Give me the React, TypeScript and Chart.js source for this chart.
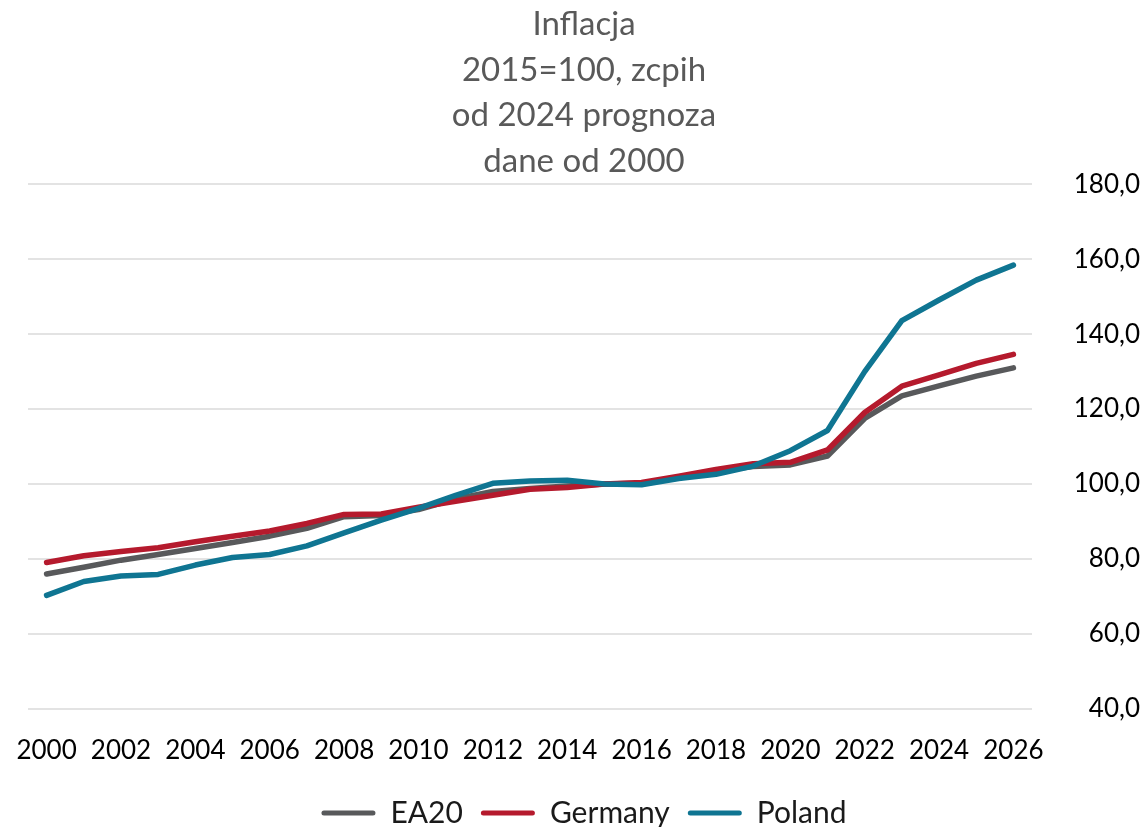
import React, { useEffect, useRef } from "react";
import { Chart, registerables } from "chart.js";

Chart.register(...registerables);

const years = [
  "2000", "2001", "2002", "2003", "2004", "2005", "2006", "2007", "2008", "2009",
  "2010", "2011", "2012", "2013", "2014", "2015", "2016", "2017", "2018", "2019",
  "2020", "2021", "2022", "2023", "2024", "2025", "2026",
];

const ea20 = [
  76.0, 77.8, 79.7, 81.2, 82.8, 84.4, 86.1, 88.2, 91.3, 91.6,
  93.2, 96.0, 98.0, 98.8, 99.5, 100.0, 100.2, 101.7, 103.5, 104.7,
  105.1, 107.5, 117.5, 123.5, 126.2, 128.8, 131.0,
];

const germany = [
  79.1, 80.9, 82.0, 83.0, 84.6, 86.1, 87.5, 89.5, 91.9, 92.0,
  93.8, 95.4, 97.0, 98.6, 99.1, 100.0, 100.4, 102.1, 103.9, 105.4,
  105.8, 109.1, 119.1, 126.1, 129.1, 132.2, 134.6,
];

const poland = [
  70.3, 74.0, 75.5, 75.9, 78.4, 80.4, 81.2, 83.5, 87.0, 90.4,
  93.5, 97.0, 100.2, 100.8, 101.0, 100.0, 99.8, 101.5, 102.6, 104.8,
  108.9, 114.3, 130.0, 143.6, 149.1, 154.4, 158.4,
];

const titleLines = ["Inflacja", "2015=100, zcpih", "od 2024 prognoza", "dane od 2000"];
const seriesNames = ["EA20", "Germany", "Poland"];
const seriesColors = ["#58595B", "#B51A2D", "#0F7592"];

export default function App() {
  const ref = useRef<HTMLCanvasElement | null>(null);

  useEffect(() => {
    if (!ref.current) return;
    const values = [ea20, germany, poland];
    const orders = [2, 1, 0];
    const chart = new Chart(ref.current, {
      type: "line",
      data: {
        labels: years,
        datasets: seriesNames.map((name, i) => ({
          label: name,
          data: values[i],
          borderColor: seriesColors[i],
          backgroundColor: seriesColors[i],
          borderWidth: 5.5,
          pointRadius: 0,
          tension: 0,
          borderCapStyle: "round" as const,
          borderJoinStyle: "round" as const,
          order: orders[i],
        })),
      },
      options: {
        animation: false,
        responsive: false,
        maintainAspectRatio: false,
        font: { family: "Lato" },
        layout: { padding: { left: 28, right: 8, top: 0, bottom: -11 } },
        plugins: {
          title: {
            display: true,
            text: titleLines,
            color: "#595959",
            font: { family: "Lato", size: 33, weight: "normal", lineHeight: 1.38 },
            padding: { top: 2, bottom: 0 },
          },
          legend: {
            display: true,
            position: "bottom",
            labels: {
              boxWidth: 54,
              boxHeight: 5,
              padding: 18,
              color: "#1a1a1a",
              useBorderRadius: true,
              borderRadius: 2.5,
              font: { family: "Lato", size: 30 },
              generateLabels: (c: any) =>
                c.data.datasets.map((ds: any, i: number) => ({
                  text: ds.label,
                  fillStyle: ds.borderColor,
                  strokeStyle: ds.borderColor,
                  lineWidth: 0,
                  hidden: false,
                  datasetIndex: i,
                  borderRadius: 2.5,
                  fontColor: "#1a1a1a",
                })),
            },
          },
          tooltip: { enabled: false },
        },
        scales: {
          x: {
            type: "category",
            offset: true,
            grid: { display: false, drawTicks: false },
            border: { display: false },
            afterFit: (s: any) => {
              s.height = 71;
              s.paddingLeft = 0;
              s.paddingRight = 0;
            },
            ticks: {
              autoSkip: false,
              maxRotation: 0,
              minRotation: 0,
              padding: 26,
              color: "#000000",
              font: { family: "Lato", size: 26 },
              callback: (_v: any, idx: number) => (idx % 2 === 0 ? years[idx] : ""),
            },
          },
          y: {
            position: "right",
            min: 40,
            max: 180,
            grid: { color: "#E3E3E3", lineWidth: 2, drawTicks: false },
            border: { display: false },
            afterFit: (s: any) => {
              s.width = 108;
            },
            ticks: {
              stepSize: 20,
              crossAlign: "far",
              padding: 42,
              color: "#000000",
              font: { family: "Lato", size: 26 },
              callback: (v: any) => Number(v).toFixed(1).replace(".", ","),
            },
          },
        },
      },
    });
    return () => chart.destroy();
  }, []);

  return (
    <div style={{ position: "absolute", left: 0, top: 0, width: 1148, height: 827, background: "#fff" }}>
      <canvas ref={ref} width={1148} height={827} style={{ display: "block" }} />
    </div>
  );
}
